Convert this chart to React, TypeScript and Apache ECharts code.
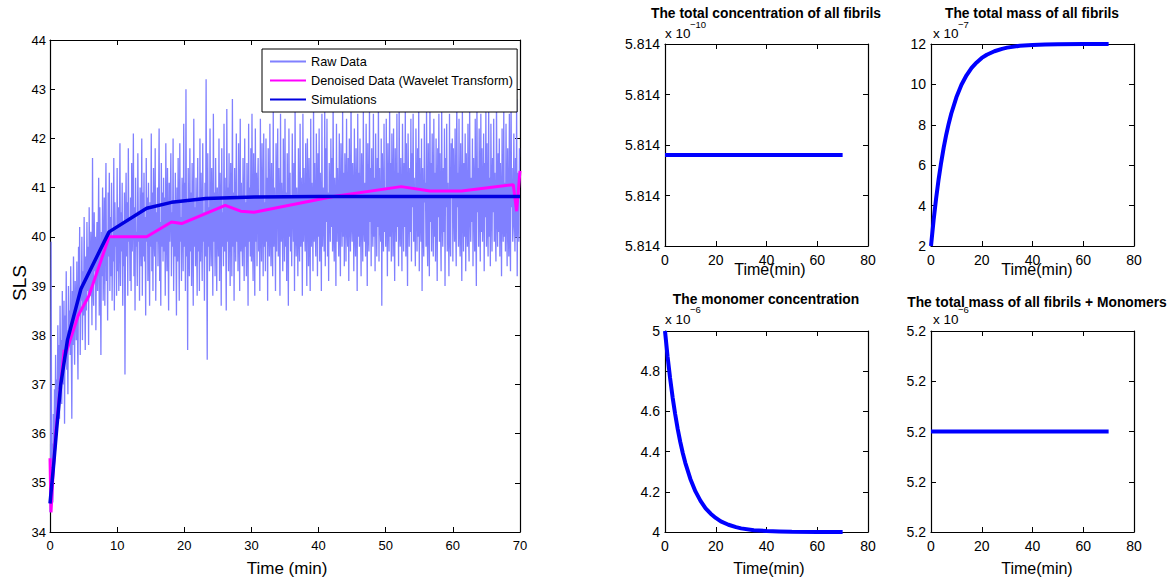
import React, { useEffect, useRef } from "react";
import * as echarts from "echarts";

const FONT = "'Liberation Sans', Arial, Helvetica, sans-serif";

// ---------- Main panel: SLS vs time ----------
const rawStepMin = 1 / 12; // one raw sample every 5 s
const rawValues = [
  34.4, 35.3, 39.9, 35.1, 35.8, 34.6, 36.4, 35.5, 36.9, 35.9, 37.6, 36.2,
  37.1, 36.4, 38.2, 36.9, 37.8, 36.3, 38.6, 37.2, 37.9, 36.6, 38.9, 37.5,
  37.0, 38.7, 36.2, 38.4, 37.6, 39.3, 37.3, 38.1, 36.8, 39.0, 37.9, 38.5,
  37.6, 39.4, 38.0, 36.3, 38.9, 37.8, 39.6, 38.2, 37.4, 39.1, 38.6, 37.9,
  39.5, 38.1, 37.1, 39.8, 38.4, 40.2, 37.6, 39.0, 38.7, 40.0, 37.9, 39.3,
  38.4, 40.4, 39.0, 37.7, 39.6, 38.5, 40.3, 38.9, 39.8, 37.8, 40.6, 39.2,
  38.8, 40.1, 39.5, 38.2, 41.6, 39.0, 38.6, 40.5, 39.3, 40.0, 38.1, 39.7,
  40.3, 38.9, 39.8, 41.2, 38.4, 40.6, 39.4, 37.6, 40.1, 39.2, 41.0, 38.7,
  39.5, 40.8, 38.6, 40.2, 41.5, 39.1, 40.0, 38.3, 40.9, 39.6, 41.3, 38.9,
  40.4, 39.2, 41.1, 38.7, 40.0, 39.5, 41.6, 38.5, 40.7, 39.8, 40.2, 38.8,
  41.4, 39.3, 40.6, 38.9, 40.1, 41.9, 39.0, 40.5, 39.7, 41.1, 38.6, 40.3,
  39.4, 40.9, 37.2, 40.2, 41.3, 39.6, 40.7, 38.8, 41.8, 39.9, 40.4, 39.1,
  40.8, 38.9, 41.5, 39.7, 40.3, 42.1, 39.2, 40.6, 38.5, 41.2, 39.8, 40.1,
  39.0, 41.7, 39.9, 40.5, 38.7, 41.0, 40.2, 39.4, 42.0, 38.8, 40.9, 39.6,
  41.3, 39.5, 40.4, 38.4, 41.6, 39.9, 40.8, 39.1, 41.1, 40.0, 38.6, 40.7,
  39.8, 42.1, 39.3, 40.9, 38.9, 41.4, 40.1, 39.6, 41.8, 38.7, 40.5, 39.9,
  41.0, 39.4, 40.6, 42.2, 39.1, 40.3, 38.6, 41.5, 39.8, 40.9, 39.5, 41.2,
  39.7, 40.8, 38.8, 41.9, 40.2, 39.3, 41.4, 40.0, 38.5, 41.1, 39.9, 40.6,
  41.7, 39.2, 40.5, 39.8, 42.0, 38.9, 40.7, 39.6, 41.3, 40.1, 38.4, 41.0,
  39.5, 41.6, 40.2, 38.7, 41.9, 39.9, 40.4, 39.1, 41.2, 40.6, 39.3, 42.3,
  39.8, 41.1, 38.9, 43.0, 39.6, 40.7, 37.7, 41.4, 40.0, 39.2, 41.8, 39.7,
  40.9, 39.0, 41.5, 40.3, 38.6, 42.4, 39.8, 40.6, 39.4, 41.2, 40.1, 38.8,
  41.6, 39.7, 40.8, 38.9, 42.0, 39.5, 41.3, 40.2, 39.1, 41.9, 39.9, 40.5,
  38.7, 41.1, 39.6, 43.2, 40.0, 37.5, 41.7, 39.8, 40.6, 39.3, 42.2, 40.1,
  39.4, 41.4, 40.3, 38.8, 42.5, 39.9, 40.9, 39.2, 41.6, 40.4, 38.9, 41.0,
  40.2, 39.6, 42.0, 39.1, 41.3, 40.7, 38.6, 41.8, 39.8, 40.5, 39.4, 42.3,
  39.7, 41.2, 40.1, 38.5, 42.6, 39.9, 41.0, 39.3, 41.7, 40.4, 39.0, 41.5,
  40.6, 39.2, 42.8, 39.8, 40.9, 38.7, 41.4, 40.2, 39.5, 42.1, 39.9, 40.8,
  39.3, 41.9, 40.4, 38.9, 42.4, 39.7, 41.1, 40.0, 39.4, 41.6, 40.5, 39.1,
  42.0, 39.8, 40.7, 39.2, 41.5, 40.3, 38.6, 42.3, 39.9, 41.0, 39.6, 41.8,
  39.5, 42.5, 40.0, 39.1, 41.7, 40.6, 38.8, 42.2, 39.9, 41.3, 39.4, 40.9,
  41.6, 39.7, 40.8, 38.9, 42.4, 40.2, 39.5, 41.9, 40.5, 39.2, 42.1, 39.8,
  40.7, 39.3, 42.0, 39.9, 41.2, 38.7, 41.8, 40.4, 39.6, 42.3, 40.1, 39.4,
  41.5, 40.0, 39.2, 42.6, 39.8, 41.0, 40.5, 38.9, 41.9, 39.7, 40.8, 42.2,
  39.6, 41.4, 40.2, 38.8, 42.5, 39.9, 41.1, 40.4, 39.3, 42.0, 40.7, 39.5,
  42.4, 39.8, 40.9, 39.1, 41.7, 40.3, 38.6, 42.2, 40.0, 41.3, 39.7, 40.8,
  39.4, 42.1, 40.6, 39.9, 41.5, 38.9, 42.7, 40.2, 39.6, 41.0, 40.5, 39.2,
  41.8, 40.1, 39.5, 42.3, 39.8, 41.2, 40.7, 38.8, 42.5, 39.9, 41.4, 40.3,
  39.7, 41.9, 40.4, 39.0, 42.0, 40.8, 39.4, 41.6, 40.2, 38.9, 42.4, 39.8,
  41.1, 40.5, 39.3, 42.7, 39.9, 41.5, 40.2, 39.6, 42.1, 40.8, 39.2, 41.7,
  40.0, 42.2, 39.5, 41.3, 40.6, 38.9, 42.5, 39.8, 41.0, 40.4, 39.7, 42.6,
  39.4, 41.8, 40.3, 42.4, 39.6, 40.9, 39.1, 41.5, 40.7, 39.9, 42.0, 40.2,
  41.6, 39.7, 42.8, 40.1, 39.5, 41.2, 40.6, 39.0, 42.3, 39.9, 41.4, 40.5,
  39.6, 42.1, 40.4, 39.2, 41.9, 40.8, 39.8, 42.6, 40.0, 41.3, 39.4, 41.7,
  40.9, 39.5, 42.4, 40.2, 39.8, 41.6, 39.1, 42.0, 40.6, 39.7, 42.9, 40.3,
  39.9, 41.5, 40.7, 39.3, 42.2, 40.1, 39.6, 41.8, 40.5, 38.9, 42.5, 40.0,
  41.3, 39.8, 42.0, 40.4, 39.2, 41.7, 40.8, 39.5, 42.6, 40.2, 39.9, 41.1,
  39.6, 42.3, 40.6, 39.0, 41.9, 40.1, 39.7, 42.7, 40.3, 41.4, 39.4, 41.8,
  40.5, 39.8, 42.5, 40.0, 41.2, 39.3, 42.1, 40.7, 39.6, 41.6, 40.2, 42.8,
  39.5, 41.4, 40.3, 39.9, 42.0, 38.6, 41.7, 40.5, 39.7, 42.3, 40.1, 41.0,
  39.8, 42.4, 40.6, 39.2, 41.9, 40.3, 39.7, 42.7, 40.0, 41.5, 39.5, 42.1,
  40.8, 39.6, 42.2, 40.4, 39.1, 41.8, 40.7, 39.9, 42.5, 40.2, 41.3, 39.4,
  42.9, 40.1, 39.8, 41.6, 40.5, 39.3, 42.3, 40.9, 39.7, 41.5, 40.2, 42.6,
  39.6, 41.9, 40.4, 39.0, 42.1, 40.7, 39.8, 41.4, 40.1, 42.4, 39.5, 41.7,
  40.6, 42.5, 39.9, 41.2, 40.3, 39.4, 42.2, 40.8, 39.7, 41.8, 40.0, 42.7,
  39.3, 41.6, 40.5, 39.9, 42.0, 38.9, 41.4, 40.2, 39.6, 42.3, 40.7, 41.1,
  39.8, 42.6, 40.1, 39.4, 41.9, 40.6, 39.2, 42.8, 40.3, 41.5, 39.7, 42.1,
  40.9, 39.6, 42.4, 40.0, 41.3, 39.5, 42.0, 40.7, 39.1, 41.8, 40.4, 42.5,
  39.9, 41.7, 40.2, 39.3, 42.7, 40.5, 39.8, 41.4, 40.1, 42.2, 39.0, 41.6,
  40.6, 42.3, 39.7, 41.1, 40.4, 39.2, 42.5, 40.0, 39.6, 41.9, 40.8, 42.0,
  39.5, 41.8, 40.7, 39.9, 42.2, 40.3, 39.4, 42.9, 40.6, 41.3, 39.8, 42.4,
  40.2, 39.6, 41.9, 40.5, 39.1, 42.6, 40.8, 39.7, 41.5, 40.0, 42.1, 39.3,
  41.7, 40.4, 39.8, 42.3, 40.1, 39.5, 42.7, 40.6, 39.9, 41.2, 40.3, 42.0,
  39.4, 41.6, 40.9, 39.7, 42.4, 40.2, 39.0, 42.8, 40.5, 41.4, 39.8, 42.2,
  40.7, 39.5, 42.5, 40.1, 41.8, 39.9, 40.6, 42.1, 39.3, 41.5, 40.4, 42.6,
  39.8, 41.9, 40.3, 39.6, 42.7, 40.0, 41.2, 39.4, 42.3, 40.8, 39.7, 41.6,
  40.5, 42.4, 39.9, 41.3, 40.2, 39.5, 42.8, 40.6, 39.8, 41.7, 40.1, 42.0,
  39.6, 41.5, 40.7, 39.2, 42.2, 40.4, 39.9, 42.6, 40.0, 41.1, 39.7, 42.3,
  40.8, 39.4, 41.8, 40.3, 39.6, 42.5, 40.1, 39.3, 42.9, 40.6, 41.4, 39.9,
  40.2, 42.1, 40.5, 39.7, 41.6, 40.0, 42.8, 39.2, 41.3, 40.7, 39.9, 41.8,
  41.8,
];
const denoisedTime = [0, 0.15, 0.5, 0.9, 1.5, 2.1, 2.3, 3.0, 4.2, 5.8, 8.8, 14.4, 18.1, 19.6, 26.1, 28.4, 30.4, 42.2, 52.3, 56.6, 61.3, 69.0, 69.5, 70];
const denoisedValues = [35.5, 34.4, 35.3, 36.1, 36.9, 37.7, 37.6, 37.9, 38.4, 38.8, 40.0, 40.0, 40.3, 40.27, 40.64, 40.52, 40.5, 40.82, 41.02, 40.93, 40.93, 41.06, 40.52, 41.34];
const simTime = [0, 0.5, 1, 1.6, 2.6, 4.6, 8.8, 14.4, 18.1, 23.2, 30.4, 40, 50, 60, 70];
const simValues = [34.58, 35.3, 36.1, 37.0, 37.9, 38.94, 40.1, 40.58, 40.7, 40.78, 40.81, 40.82, 40.82, 40.82, 40.82];

// ---------- Right panels: model outputs ----------
const modelTime = [0, 1, 2, 3, 4, 5, 6, 7, 8, 10, 12, 14, 16, 18, 20, 22, 25, 28, 30, 35, 40, 45, 50, 60, 70];
// total mass of all fibrils (x 1e-7)
const fibrilMass = [2, 3.25, 4.34, 5.3, 6.13, 6.87, 7.51, 8.07, 8.56, 9.36, 9.98, 10.45, 10.82, 11.09, 11.31, 11.47, 11.64, 11.76, 11.82, 11.91, 11.95, 11.98, 11.99, 12.0, 12.0];
// monomer concentration (x 1e-6)
const monomerConc = [5, 4.875, 4.766, 4.67, 4.587, 4.513, 4.449, 4.393, 4.344, 4.264, 4.202, 4.155, 4.118, 4.091, 4.07, 4.053, 4.036, 4.024, 4.018, 4.009, 4.005, 4.003, 4.001, 4.0, 4.0];
const constTime = [0, 70];
// total concentration of all fibrils (x 1e-10)
const fibrilConc = [5.813998, 5.813998];
// total mass fibrils + monomers (x 1e-6)
const totalMass = [5.2, 5.2];

const rawTime = rawValues.map((_, i) => i * rawStepMin);
const zip = (xs: number[], ys: number[]) => xs.map((x, i) => [x, ys[i]]);

const grids = [
  { left: 50, top: 40, width: 470, height: 492 },
  { left: 665, top: 44, width: 203, height: 202 },
  { left: 931, top: 44, width: 203, height: 202 },
  { left: 665, top: 331, width: 203, height: 201 },
  { left: 931, top: 331, width: 203, height: 201 },
];

type AxSpec = { min: number; max: number; interval: number; fs: number; margin: number; fmt?: (v: number) => string };

const axisLine = { show: true, onZero: false, lineStyle: { color: "#000", width: 1.2 } };
const axisTick = { show: true, inside: true, length: 5, lineStyle: { color: "#000", width: 1 } };

function makeAxes(g: number, xs: AxSpec, ys: AxSpec) {
  const xBase = { type: "value", gridIndex: g, min: xs.min, max: xs.max, interval: xs.interval, axisLine, axisTick, splitLine: { show: false } };
  const yBase = { type: "value", gridIndex: g, min: ys.min, max: ys.max, interval: ys.interval, axisLine, axisTick, splitLine: { show: false } };
  const x = [
    { ...xBase, position: "bottom", axisLabel: { show: true, color: "#000", fontFamily: FONT, fontSize: xs.fs, margin: xs.margin, formatter: xs.fmt } },
    { ...xBase, position: "top", axisLabel: { show: false } },
  ];
  const y = [
    { ...yBase, position: "left", axisLabel: { show: true, color: "#000", fontFamily: FONT, fontSize: ys.fs, margin: ys.margin, formatter: ys.fmt } },
    { ...yBase, position: "right", axisLabel: { show: false } },
  ];
  return { x, y };
}

const txt = (text: string, x: number, y: number, fs: number, opts: any = {}) => ({
  type: "text",
  x,
  y,
  rotation: opts.rotation || 0,
  style: {
    text,
    x: 0,
    y: 0,
    fontFamily: FONT,
    fontSize: fs,
    fontWeight: opts.bold ? "bold" : "normal",
    fill: "#000",
    textAlign: opts.align || "center",
    textVerticalAlign: "middle",
  },
});

export default function App() {
  const ref = useRef<HTMLDivElement>(null);
  useEffect(() => {
    if (!ref.current) return;
    const chart = echarts.init(ref.current, undefined, { renderer: "svg" });
    const a0 = makeAxes(0, { min: 0, max: 70, interval: 10, fs: 13, margin: 7 }, { min: 34, max: 44, interval: 1, fs: 13, margin: 4 });
    const a1 = makeAxes(1, { min: 0, max: 80, interval: 20, fs: 14, margin: 7 },
      { min: 5.81398, max: 5.81402, interval: 0.00001, fs: 14, margin: 5, fmt: (v: number) => v.toFixed(3) });
    const a2 = makeAxes(2, { min: 0, max: 80, interval: 20, fs: 14, margin: 7 }, { min: 2, max: 12, interval: 2, fs: 14, margin: 5 });
    const a3 = makeAxes(3, { min: 0, max: 80, interval: 20, fs: 14, margin: 7 }, { min: 4, max: 5, interval: 0.2, fs: 14, margin: 5 });
    const a4 = makeAxes(4, { min: 0, max: 80, interval: 20, fs: 14, margin: 7 },
      { min: 5.19998, max: 5.20002, interval: 0.00001, fs: 14, margin: 5, fmt: (v: number) => v.toFixed(1) });
    const all = [a0, a1, a2, a3, a4];

    const lineSeries = (name: string, g: number, data: number[][], color: string, width: number) => ({
      name,
      type: "line",
      xAxisIndex: 2 * g,
      yAxisIndex: 2 * g,
      data,
      symbol: "none",
      showSymbol: false,
      smooth: false,
      lineStyle: { color, width },
      itemStyle: { color },
      emphasis: { disabled: true },
    });

    chart.setOption({
      animation: false,
      backgroundColor: "#fff",
      grid: grids.map((g) => ({ ...g, containLabel: false, show: false })),
      xAxis: all.flatMap((a) => a.x),
      yAxis: all.flatMap((a) => a.y),
      legend: {
        show: true,
        orient: "vertical",
        left: 262,
        top: 49,
        padding: [6, 4, 6, 7],
        itemGap: 6,
        itemWidth: 36,
        itemHeight: 14,
        borderColor: "#000",
        borderWidth: 1,
        backgroundColor: "#fff",
        itemStyle: { opacity: 0 },
        textStyle: { fontFamily: FONT, fontSize: 12.7, color: "#000" },
        data: ["Raw Data", "Denoised Data (Wavelet Transform)", "Simulations"],
      },
      series: [
        lineSeries("Raw Data", 0, zip(rawTime, rawValues), "#8080ff", 1.3),
        lineSeries("Denoised Data (Wavelet Transform)", 0, zip(denoisedTime, denoisedValues), "#ff00ff", 3),
        lineSeries("Simulations", 0, zip(simTime, simValues), "#0000e0", 3.5),
        lineSeries("fibrilConc", 1, zip(constTime, fibrilConc), "#0000ff", 4),
        lineSeries("fibrilMass", 2, zip(modelTime, fibrilMass), "#0000ff", 4),
        lineSeries("monomerConc", 3, zip(modelTime, monomerConc), "#0000ff", 4),
        lineSeries("totalMass", 4, zip(constTime, totalMass), "#0000ff", 4),
      ],
      graphic: [
        txt("Time (min)", 287, 568, 17),
        txt("SLS", 19, 283, 19, { rotation: Math.PI / 2 }),
        txt("The total concentration of all fibrils", 766, 13, 13.8, { bold: true }),
        txt("The total mass of all fibrils", 1032, 13, 13.8, { bold: true }),
        txt("The monomer concentration", 766, 299, 13.8, { bold: true }),
        txt("The total mass of all fibrils + Monomers", 1037, 302, 13.8, { bold: true }),
        txt("Time(min)", 770, 269, 16),
        txt("Time(min)", 1037, 269, 16),
        txt("Time(min)", 769, 568, 16),
        txt("Time(min)", 1037, 568, 16),
        txt("x 10", 665, 33, 13.5, { align: "left" }),
        txt("\u221210", 690, 24, 9.5, { align: "left" }),
        txt("x 10", 933, 33, 13.5, { align: "left" }),
        txt("\u22127", 958, 24, 9.5, { align: "left" }),
        txt("x 10", 665, 319, 13.5, { align: "left" }),
        txt("\u22126", 690, 309, 9.5, { align: "left" }),
        txt("x 10", 933, 319, 13.5, { align: "left" }),
        txt("\u22126", 958, 309, 9.5, { align: "left" }),
      ],
    });
    return () => chart.dispose();
  }, []);
  return <div ref={ref} style={{ position: "fixed", left: 0, top: 0, width: 1170, height: 587, background: "#fff" }} />;
}
